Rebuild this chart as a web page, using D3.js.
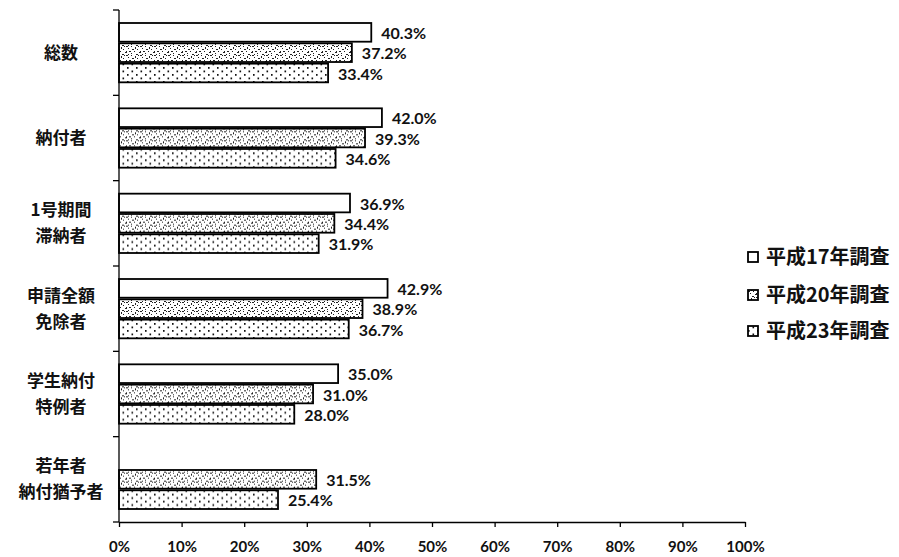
<!DOCTYPE html>
<html><head><meta charset="utf-8">
<script src="https://cdn.jsdelivr.net/npm/d3@7"></script>
<style>
body{margin:0;background:#fff;}
svg{display:block;}
</style></head>
<body>
<svg id="c" width="899" height="557"></svg>
<script>
const categories = ["総数", "納付者", "1号期間\n滞納者", "申請全額\n免除者", "学生納付\n特例者", "若年者\n納付猶予者"];
const seriesNames = ["平成17年調査", "平成20年調査", "平成23年調査"];
const h17 = [40.3, 42.0, 36.9, 42.9, 35.0, null];
const h20 = [37.2, 39.3, 34.4, 38.9, 31.0, 31.5];
const h23 = [33.4, 34.6, 31.9, 36.7, 28.0, 25.4];
const xTicks = [0, 10, 20, 30, 40, 50, 60, 70, 80, 90, 100];

const series = [h17, h20, h23];
const svg = d3.select("#c");
const jp = "'Noto Sans CJK JP', 'Noto Sans', sans-serif";
const num = "Lato, 'Open Sans', sans-serif";

// patterns
const defs = svg.append("defs");
const p2 = defs.append("pattern").attr("id", "pat2").attr("patternUnits", "userSpaceOnUse")
  .attr("width", 14).attr("height", 9);
p2.append("rect").attr("width", 14).attr("height", 9).attr("fill", "#fff");
const noise = [[0,0,2,1],[5,0,1,1],[9,1,1,2],[12,0,1,1],[2,2,1,1],[6,3,2,1],
  [11,3,1,1],[0,5,1,2],[3,5,2,1],[8,5,1,1],[13,6,1,1],[5,7,1,1],[10,8,2,1],[2,8,1,1]];
noise.forEach(d => p2.append("rect").attr("x", d[0]).attr("y", d[1]).attr("width", d[2]).attr("height", d[3]).attr("fill", "#222"));

const p3 = defs.append("pattern").attr("id", "pat3").attr("patternUnits", "userSpaceOnUse")
  .attr("width", 9).attr("height", 7);
p3.append("rect").attr("width", 9).attr("height", 7).attr("fill", "#fff");
p3.append("rect").attr("x", 1).attr("y", 1).attr("width", 1.6).attr("height", 1.8).attr("fill", "#111");
p3.append("rect").attr("x", 5.5).attr("y", 4.5).attr("width", 1.6).attr("height", 1.8).attr("fill", "#111");
const fills = ["#fff", "url(#pat2)", "url(#pat3)"];

const x = d3.scaleLinear().domain([0, 100]).range([119, 745]);
const y = d3.scaleBand().domain(categories).range([10, 522]);
const bw = y.bandwidth();
const inner = d3.scaleBand().domain([0, 1, 2]).range([13, bw - 13]).paddingInner(0.08);

// bars
categories.forEach((c, i) => {
  const g = svg.append("g").attr("transform", `translate(0,${y(c)})`);
  series.forEach((s, k) => {
    const v = s[i];
    if (v == null) return;
    g.append("rect").attr("x", x(0)).attr("y", inner(k))
      .attr("width", x(v) - x(0)).attr("height", inner.bandwidth())
      .attr("fill", fills[k]).attr("stroke", "#000").attr("stroke-width", 1.8);
    g.append("text").attr("x", x(v) + 10).attr("y", inner(k) + inner.bandwidth() / 2 + 1)
      .attr("dy", "0.36em").attr("font-family", num).attr("font-weight", "bold")
      .attr("font-size", 16).attr("fill", "#111").text(v.toFixed(1) + "%");
  });
});

// y axis
svg.append("line").attr("x1", x(0)).attr("x2", x(0)).attr("y1", 10).attr("y2", 522)
  .attr("stroke", "#000").attr("stroke-width", 1.3);
const yb = categories.map(c => y(c)).concat([522]);
yb.forEach(v => svg.append("line").attr("x1", x(0) - 6).attr("x2", x(0)).attr("y1", v).attr("y2", v)
  .attr("stroke", "#000").attr("stroke-width", 1.3));

// category labels
categories.forEach(c => {
  const lines = c.split("\n");
  const cy = y(c) + bw / 2;
  const t = svg.append("text").attr("x", 61).attr("text-anchor", "middle")
    .attr("font-family", jp).attr("font-weight", "bold").attr("font-size", 17).attr("fill", "#111");
  lines.forEach((l, j) => {
    t.append("tspan").attr("x", 61).attr("y", cy + (j - (lines.length - 1) / 2) * 26).attr("dy", "0.36em").text(l);
  });
});

// x axis
const xa = svg.append("g").attr("transform", "translate(0,522)")
  .call(d3.axisBottom(x).tickValues(xTicks).tickFormat(d => d + "%").tickSize(5).tickSizeOuter(0));
xa.select(".domain").attr("stroke", "#000").attr("stroke-width", 1.3);
xa.selectAll(".tick line").attr("stroke", "#000").attr("stroke-width", 1.3);
xa.selectAll(".tick text").attr("font-family", num).attr("font-weight", "bold")
  .attr("font-size", 15).attr("fill", "#111").attr("y", 19).attr("dy", "0.71em");

// legend
const ly = [257, 295, 331];
seriesNames.forEach((n, k) => {
  svg.append("rect").attr("x", 748).attr("y", ly[k] - 5).attr("width", 10).attr("height", 10)
    .attr("fill", fills[k]).attr("stroke", "#000").attr("stroke-width", 1.8);
  svg.append("text").attr("x", 766).attr("y", ly[k]).attr("dy", "0.36em")
    .attr("font-family", jp).attr("font-weight", "bold").attr("font-size", 20).attr("fill", "#111").text(n);
});
</script>
</body></html>
